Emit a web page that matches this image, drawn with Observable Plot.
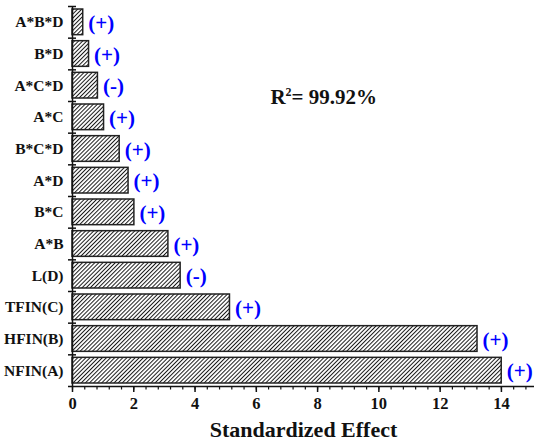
<!DOCTYPE html>
<html><head><meta charset="utf-8">
<script src="https://cdn.jsdelivr.net/npm/d3@7"></script>
<script src="https://cdn.jsdelivr.net/npm/@observablehq/plot@0.6"></script>
<style>body{margin:0;background:#fff}</style>
</head><body><div id="chart"></div>
<script>
const terms = ["A*B*D","B*D","A*C*D","A*C","B*C*D","A*D","B*C","A*B","L(D)","TFIN(C)","HFIN(B)","NFIN(A)"];
const effects = [0.35,0.54,0.83,1.03,1.54,1.83,2.02,3.13,3.53,5.14,13.22,14.01];
const signs = ["(+)","(+)","(-)","(+)","(+)","(+)","(+)","(+)","(-)","(+)","(+)","(+)"];
const majorTicks = [0,2,4,6,8,10,12,14];
const minorTicks = [0,0.4,0.8,1.2,1.6,2,2.4,2.8,3.2,3.6,4,4.4,4.8,5.2,5.6,6,6.4,6.8,7.2,7.6,8,8.4,8.8,9.2,9.6,10,10.4,10.8,11.2,11.6,12,12.4,12.8,13.2,13.6,14,14.4,14.8];
const xTitle = "Standardized Effect";
const r2Note = [{x: 8.2, y: "A*C*D", text: "R2= 99.92%"}];

const rows = terms.map((t, i) => ({term: t, effect: effects[i], sign: signs[i]}));

const W = 534, H = 448, mt = 6, mb = 62;
const step = (H - mt - mb) / terms.length;

const svg = Plot.plot({
  width: W, height: H,
  marginTop: mt, marginBottom: mb, marginLeft: 72, marginRight: 0,
  style: {fontFamily: "'Liberation Serif', 'Times New Roman', serif", fontWeight: "bold", fontSize: "15px", color: "#111", background: "#fff"},
  x: {domain: [0, 15.08]},
  y: {domain: terms, padding: 0, round: false},
  marks: [
    Plot.barX(rows, {x: "effect", y: "term", fill: "url(#hatch)", stroke: "#222", strokeWidth: 1.5, insetTop: 3, insetBottom: 3}),
    Plot.ruleX([0], {stroke: "#111", strokeWidth: 1.5}),
    Plot.ruleY([terms[terms.length - 1]], {dy: step / 2, stroke: "#111", strokeWidth: 1.5, insetLeft: -4}),
    Plot.ruleY(terms, {x1: 0, x2: 0, insetLeft: -4, insetRight: -4, dy: -step / 2, stroke: "#111", strokeWidth: 1.5}),
    Plot.axisY({tickSize: 0, tickPadding: 9, fontSize: 15.5, fontWeight: "bold", label: null}),
    Plot.axisX({ticks: minorTicks, tickSize: 3.5, text: null, label: null, stroke: "#111", strokeWidth: 1.2}),
    Plot.axisX({ticks: majorTicks, tickSize: 6, tickPadding: 5, fontSize: 16.5, fontWeight: "bold", label: null, stroke: "#111", strokeWidth: 1.5}),
    Plot.text([xTitle], {frameAnchor: "bottom", dy: 50, fontSize: 22, fontWeight: "bold", fill: "#111"}),
    Plot.text(rows, {x: "effect", y: "term", text: "sign", textAnchor: "start", dx: 5, dy: 1, fill: "#0000ff", fontSize: 21, fontWeight: "bold"}),
    Plot.text(r2Note, {x: "x", y: "y", text: "text", dy: 12, fontSize: 21, fontWeight: "bold", fill: "#111"})
  ]
});

// superscript the "2" of R2 (kept as real text)
d3.select(svg).selectAll("text").filter(function() { return this.textContent === "R2= 99.92%"; })
  .each(function() {
    const t = d3.select(this);
    t.text(null);
    t.append("tspan").text("R");
    t.append("tspan").attr("font-size", 12).attr("dy", -8).text("2");
    t.append("tspan").attr("dy", 8).text("= 99.92%");
  });

const defs = d3.select(svg).insert("defs", ":first-child");
const pat = defs.append("pattern").attr("id", "hatch").attr("patternUnits", "userSpaceOnUse")
  .attr("width", 2.9).attr("height", 2.9).attr("patternTransform", "rotate(45)");
pat.append("rect").attr("width", 2.9).attr("height", 2.9).attr("fill", "#fff");
pat.append("line").attr("x1", 0.5).attr("y1", 0).attr("x2", 0.5).attr("y2", 2.9).attr("stroke", "#1a1a1a").attr("stroke-width", 1);

document.getElementById("chart").appendChild(svg);
</script>
</body></html>
